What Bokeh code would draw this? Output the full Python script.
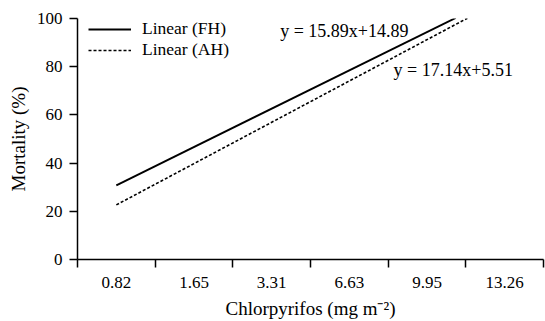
from bokeh.plotting import figure
from bokeh.models import Range1d, FixedTicker, Legend, LegendItem, Label
from bokeh.embed import file_html
from bokeh.resources import INLINE

# Data
categories = ["0.82", "1.65", "3.31", "6.63", "9.95", "13.26"]
cat_pos = [1, 2, 3, 4, 5, 6]
fh_slope, fh_intercept = 15.89, 14.89
ah_slope, ah_intercept = 17.14, 5.51
fh_x = [1.0, 5.37]
ah_x = [1.0, 5.52]
fh_y = [fh_slope * x + fh_intercept for x in fh_x]
ah_y = [ah_slope * x + ah_intercept for x in ah_x]
y_ticks = [0, 20, 40, 60, 80, 100]

FONT = "Liberation Serif"
FS = "17px"

p = figure(width=545, height=321, output_backend="svg", toolbar_location=None,
           x_range=Range1d(0.5, 6.5), y_range=Range1d(0, 100),
           min_border_left=77, min_border_right=2, min_border_top=18, min_border_bottom=61)
p.outline_line_color = None
p.xgrid.visible = False
p.ygrid.visible = False

r_fh = p.line(fh_x, fh_y, line_color="black", line_width=2)
r_ah = p.line(ah_x, ah_y, line_color="black", line_width=1.6, line_dash="3 2")

# axes
xa = p.xaxis[0]
xa.ticker = FixedTicker(ticks=cat_pos, minor_ticks=[0.5 + i for i in range(7)])
xa.major_label_overrides = {c: l for c, l in zip(cat_pos, categories)}
xa.major_tick_out = 0
xa.major_tick_in = 0
xa.minor_tick_out = 8
xa.minor_tick_in = 0
xa.minor_tick_line_width = 1.5
xa.minor_tick_line_color = "black"
xa.major_label_standoff = 9
xa.axis_label = "Chlorpyrifos (mg m\u207b\u00b2)"
xa.axis_label_standoff = 7

ya = p.yaxis[0]
ya.ticker = FixedTicker(ticks=y_ticks, minor_ticks=[])
ya.major_tick_out = 8
ya.major_tick_in = 0
ya.major_tick_line_width = 1.5
ya.major_label_standoff = 7
ya.axis_label = "Mortality (%)"
ya.axis_label_standoff = 5

for ax in (xa, ya):
    ax.axis_line_width = 1.5
    ax.axis_line_color = "black"
    ax.major_tick_line_color = "black"
    ax.major_label_text_font = FONT
    ax.major_label_text_font_size = FS
    ax.major_label_text_color = "black"
    ax.axis_label_text_font = FONT
    ax.axis_label_text_font_size = "19px"
    ax.axis_label_text_font_style = "normal"
    ax.axis_label_text_color = "black"

legend = Legend(items=[LegendItem(label="Linear (FH)", renderers=[r_fh]),
                       LegendItem(label="Linear (AH)", renderers=[r_ah])],
                location=(11, 199), padding=0, margin=0, spacing=0,
                glyph_width=43, glyph_height=20, label_height=20, label_standoff=11,
                label_text_font=FONT, label_text_font_size="17.5px",
                label_text_color="black",
                border_line_color=None, background_fill_alpha=0)
p.add_layout(legend)

p.add_layout(Label(x=3.11, y=95, text="y = 15.89x+14.89", text_font=FONT,
                   text_font_size="18px", text_baseline="middle", text_color="black"))
p.add_layout(Label(x=4.57, y=78.5, text="y = 17.14x+5.51", text_font=FONT,
                   text_font_size="18px", text_baseline="middle", text_color="black"))

open("out.html", "w").write(file_html(p, INLINE))
